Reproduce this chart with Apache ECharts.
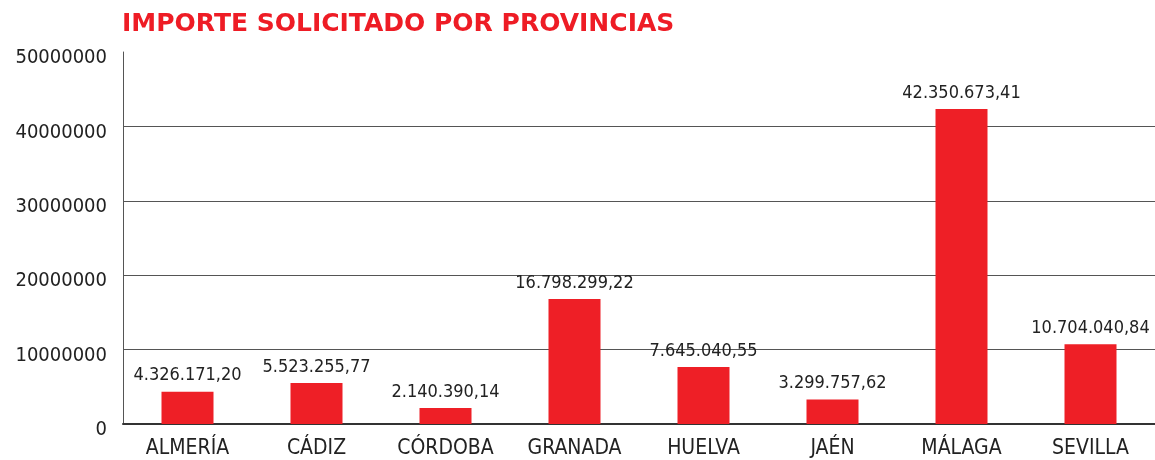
<!DOCTYPE html>
<html>
<head>
<meta charset="utf-8">
<script src="https://cdn.jsdelivr.net/npm/echarts@6/dist/echarts.min.js"></script>
<style>
html, body { margin: 0; padding: 0; background: #fff; }
#main { width: 1155px; height: 460px; }
</style>
</head>
<body>
<div id="main"></div>
<script>
var provincias = ['ALMERÍA', 'CÁDIZ', 'CÓRDOBA', 'GRANADA', 'HUELVA', 'JAÉN', 'MÁLAGA', 'SEVILLA'];
var importes = [4326171.20, 5523255.77, 2140390.14, 16798299.22, 7645040.55, 3299757.62, 42350673.41, 10704040.84];

var fuente = '"DejaVu Sans Condensed", "DejaVu Sans", sans-serif';

// formato español: 1.234.567,89
function formatoES(v) {
  var partes = v.toFixed(2).split('.');
  var entero = partes[0].replace(/\B(?=(\d{3})+(?!\d))/g, '.');
  return entero + ',' + partes[1];
}

var chart = echarts.init(document.getElementById('main'));

var option = {
  animation: false,
  title: {
    text: 'IMPORTE SOLICITADO POR PROVINCIAS',
    left: 117,
    top: 7,
    textStyle: {
      color: '#ee1c25',
      fontFamily: '"DejaVu Sans", sans-serif',
      fontWeight: 'bold',
      fontSize: 25
    }
  },
  grid: {
    left: 123,
    right: 0,
    top: 52,
    bottom: 36
  },
  xAxis: {
    type: 'category',
    data: provincias,
    axisLine: { lineStyle: { color: '#333', width: 2 } },
    axisTick: { show: false },
    axisLabel: {
      color: '#222',
      fontFamily: fuente,
      fontSize: 21,
      margin: 14
    }
  },
  yAxis: {
    type: 'value',
    min: 0,
    max: 50000000,
    interval: 10000000,
    axisLine: { show: true, lineStyle: { color: '#555', width: 1 } },
    axisTick: { show: false },
    splitLine: {
      lineStyle: {
        color: ['#555', '#555', '#555', '#555', '#555', 'rgba(0,0,0,0)'],
        width: 1
      }
    },
    axisLabel: {
      color: '#222',
      fontFamily: fuente,
      fontSize: 20,
      margin: 16,
      verticalAlign: 'top',
      lineHeight: 20,
      padding: [-4, 0, 0, 0],
      formatter: function (v) { return String(v); }
    }
  },
  series: [
    {
      type: 'bar',
      data: importes,
      barWidth: 52,
      itemStyle: { color: '#ee1f26' },
      label: {
        show: true,
        position: 'top',
        distance: 7,
        color: '#222',
        fontFamily: fuente,
        fontSize: 18,
        formatter: function (p) { return formatoES(p.value); }
      }
    }
  ]
};

chart.setOption(option);
</script>
</body>
</html>
